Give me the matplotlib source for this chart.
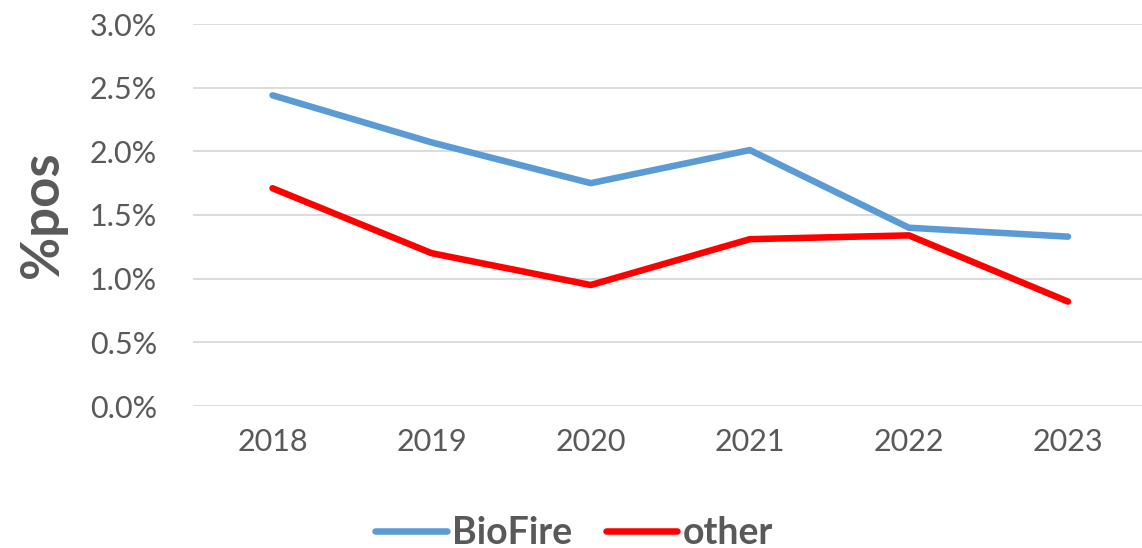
import numpy as np
import matplotlib.pyplot as plt
from matplotlib.ticker import PercentFormatter

# data
years = ["2018", "2019", "2020", "2021", "2022", "2023"]
biofire = [2.44, 2.07, 1.75, 2.01, 1.40, 1.33]
other = [1.71, 1.20, 0.95, 1.31, 1.34, 0.82]

gray = "#595959"
plt.rcParams["font.family"] = ["Lato", "DejaVu Sans"]

fig = plt.figure(figsize=(11.42, 5.48), dpi=100)
ax = fig.add_axes([193 / 1142, 1 - 406 / 548, 1 - 193 / 1142, (406 - 24) / 548])

x = np.arange(len(years))
ax.plot(x, biofire, color="#5b9bd5", lw=4.7, label="BioFire",
        solid_capstyle="round", solid_joinstyle="round", zorder=3)
ax.plot(x, other, color="#ff0000", lw=4.7, label="other",
        solid_capstyle="round", solid_joinstyle="round", zorder=3)

ax.set_xlim(-0.5, 5.465)
ax.set_ylim(0, 3.0)
ax.set_yticks(np.arange(0, 3.01, 0.5))
ax.yaxis.set_major_formatter(PercentFormatter(decimals=1))
ax.set_xticks(x)
ax.set_xticklabels(years)
ax.grid(axis="y", color="#d9d9d9", lw=1.3, zorder=0)
for s in ax.spines.values():
    s.set_visible(False)
ax.tick_params(length=0, labelsize=22, colors=gray)
ax.tick_params(axis="y", pad=26)
ax.tick_params(axis="x", pad=16)

# y axis title
fig.text(42.5 / 1142, 1 - 215 / 548, "%pos", rotation=90, fontsize=38,
         fontweight="bold", color=gray, ha="center", va="center")

leg = fig.legend(loc="center", bbox_to_anchor=(0.503, 0.028), ncol=2,
                 frameon=False, fontsize=27, handlelength=1.9,
                 handletextpad=0.15, columnspacing=0.9)
for t in leg.get_texts():
    t.set_color(gray)
    t.set_fontweight("bold")

plt.savefig("out.png", dpi=100)
